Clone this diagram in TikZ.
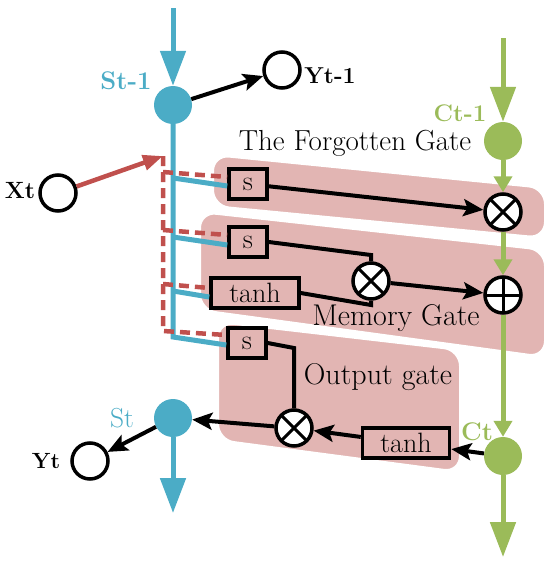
\documentclass[tikz,border=0pt]{standalone}
\usepackage{fontspec}
\usetikzlibrary{arrows.meta}
\definecolor{cblue}{RGB}{75,172,198}
\definecolor{cgreen}{RGB}{155,187,89}
\definecolor{cred}{RGB}{192,80,77}
\definecolor{cpink}{RGB}{226,181,179}
\tikzset{
 bline/.style={cblue, line width=5pt},
 gline/.style={cgreen, line width=5pt},
 rline/.style={cred, line width=4.5pt},
 rdash/.style={cred, line width=4.5pt, dash pattern=on 10pt off 6pt},
 kline/.style={black, line width=4pt},
 bdot/.style={circle, fill=cblue, minimum size=38pt, inner sep=0pt},
 gdot/.style={circle, fill=cgreen, minimum size=38pt, inner sep=0pt},
 ocirc/.style={circle, draw=black, line width=3.5pt, fill=white, minimum size=36pt, inner sep=0pt},
 mult/.style={ocirc, path picture={\draw[line width=3pt] (path picture bounding box.north west) -- (path picture bounding box.south east) (path picture bounding box.north east) -- (path picture bounding box.south west);}},
 plus/.style={ocirc, path picture={\draw[line width=3pt] (path picture bounding box.north) -- (path picture bounding box.south) (path picture bounding box.west) -- (path picture bounding box.east);}},
 gatebox/.style={draw=black, line width=3.5pt, fill=cpink, minimum width=38pt, minimum height=30pt, inner sep=1pt, font=\fontsize{28}{28}\selectfont},
 region/.style={fill=cpink, draw=white, line width=2pt, rounded corners=16pt},
 glabel/.style={font=\fontsize{30}{32}\selectfont, inner sep=0pt},
 vlabel/.style={font=\bfseries\fontsize{25}{28}\selectfont, inner sep=0pt},
 ktip/.style={-{Stealth[length=20pt,width=17pt,inset=4pt]}},
 bigtip/.style={-{Triangle[length=35pt,width=25pt]}},
 smalltip/.style={-{Triangle[length=16pt,width=18pt]}},
 rtip/.style={-{Triangle[length=20pt,width=15pt]}},
}
\begin{document}
\begin{tikzpicture}[x=1pt,y=-1pt]
\useasboundingbox (0,0) rectangle (550,565);
% regions
\path[region] (213,155) -- (545,188) -- (545,238) -- (213,206) -- cycle;
\path[region] (200,212) -- (545,250) -- (545,357) -- (200,310) -- cycle;
\path[region] (218,322) -- (460,350) -- (460,472) -- (218,440) -- cycle;
% labels of gates
\node[glabel, font=\fontsize{29}{32}\selectfont] (lfg) at (355,143) {The Forgotten Gate};
\node[glabel] (lmg) at (396,318) {Memory Gate};
\node[glabel] (log) at (378,377) {Output gate};
% main nodes
\node[bdot] (st1) at (173,105) {};
\node[vlabel, text=cblue, font=\bfseries\fontsize{25.5}{28}\selectfont] (lst1) at (126,81) {St-1};
\node[ocirc] (yt1) at (282,70) {};
\node[vlabel, font=\bfseries\fontsize{23}{26}\selectfont] (lyt1) at (330,76) {Yt-1};
\node[ocirc] (xt) at (58,193) {};
\node[vlabel, font=\bfseries\fontsize{23.5}{26}\selectfont] (lxt) at (20,191) {Xt};
\node[gdot] (ct1) at (503,141) {};
\node[vlabel, text=cgreen, font=\bfseries\fontsize{24}{26}\selectfont] (lct1) at (460,113) {Ct-1};
\node[mult] (fm) at (503,212) {};
\node[plus] (pl) at (503,295) {};
\node[mult] (mm) at (371,281) {};
\node[gdot] (ct) at (503,456) {};
\node[vlabel, text=cgreen, font=\bfseries\fontsize{25.5}{28}\selectfont] (lct) at (477,432) {Ct};
\node[mult] (om) at (294,428) {};
\node[gatebox, minimum width=87pt] (ot) at (406,443) {tanh};
\node[bdot] (st) at (173,418) {};
\node[glabel, text=cblue, font=\fontsize{27.5}{30}\selectfont] (lst) at (122,418) {St};
\node[ocirc] (yt) at (90,461) {};
\node[vlabel, font=\bfseries\fontsize{22}{26}\selectfont] (lyt) at (46,461) {Yt};
\node[gatebox] (s1) at (248,184) {s};
\node[gatebox] (s2) at (248,242) {s};
\node[gatebox, minimum width=88pt] (th) at (255,293) {tanh};
\node[gatebox] (s3) at (247,343) {s};
% coordinates
\coordinate (btop) at (173,8);
\coordinate (bbot) at (173,513);
\coordinate (gtop) at (503,38);
\coordinate (gbot) at (503,557);
\coordinate (r0) at (163,156);
\coordinate (b1) at (173,178);
\coordinate (b2) at (173,237);
\coordinate (b3) at (173,291);
\coordinate (b4) at (173,337);
\coordinate (r1) at (163,172);
\coordinate (r2) at (163,230);
\coordinate (r3) at (163,284);
\coordinate (r4) at (163,331);
\coordinate (m1) at (371,255);
\coordinate (m2) at (371,305);
\coordinate (m3) at (294,348);
% blue
\draw[bline, bigtip] (btop) -- (st1.north);
\draw[bline] (st1.south) -- (b4) -- ([yshift=-2pt]s3.west);
\draw[bline] (b1) -- ([yshift=-2pt]s1.west);
\draw[bline] (b2) -- ([yshift=-3pt]s2.west);
\draw[bline] (b3) -- ([yshift=-4pt]th.west);
\draw[bline, bigtip] (st.south) -- (bbot);
% red
\draw[rline, rtip] (xt) -- (r0);
\draw[rdash] (r0) -- (r4) -- ([yshift=8pt]s3.west);
\draw[rdash] (r1) -- ([yshift=7pt]s1.west);
\draw[rdash] (r2) -- ([yshift=7pt]s2.west);
\draw[rdash] (r3) -- ([yshift=5pt]th.west);
% green
\draw[gline, bigtip] (gtop) -- (ct1.north);
\draw[gline, smalltip] (ct1) -- (fm);
\draw[gline, smalltip] (fm) -- (pl);
\draw[gline, smalltip] (pl) -- (ct);
\draw[gline, bigtip] (ct.south) -- (gbot);
% black
\draw[kline, ktip] (st1) -- (yt1);
\draw[kline, ktip] (s1) -- (fm);
\draw[kline] (s2.east) -- (m1) -- (mm.north);
\draw[kline] (th.east) -- (m2) -- (mm.south);
\draw[kline, ktip] (mm) -- (pl);
\draw[kline] (s3.east) -- (m3) -- (om.north);
\draw[kline, ktip] (ct) -- (ot);
\draw[kline, ktip] (ot) -- (om);
\draw[kline, ktip] (om) -- (st);
\draw[kline, ktip] (st) -- (yt);
\end{tikzpicture}
\end{document}
